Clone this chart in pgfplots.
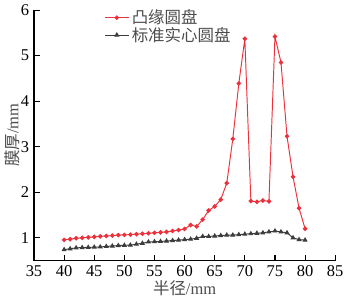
\documentclass[border=0pt]{standalone}
\usepackage{pgfplots}
\pgfplotsset{compat=1.18}
\usepackage{fontspec}
\setmainfont{Liberation Serif}
\newfontfamily\cjk{Noto Sans CJK SC}
\definecolor{myred}{RGB}{235,50,60}
\definecolor{mygray}{RGB}{60,60,60}
\begin{document}
\begin{tikzpicture}
\begin{axis}[
  width=9.3cm, height=8.0cm,
  xmin=35, xmax=85, ymin=0.5, ymax=6,
  xtick={35,40,...,85}, ytick={1,2,3,4,5,6},
  axis lines*=left,
  tick align=inside,
  tick style={black, thick},
  axis line style={black, thick},
  xlabel={\cjk 半径\rmfamily/mm},
  ylabel={\cjk 膜厚\rmfamily/mm},
  ticklabel style={font=\large, text=black},
  label style={font=\large, text=black!70},
  xlabel style={yshift=4pt},
  ylabel style={yshift=-6pt},
  /pgf/number format/assume math mode=true,
  legend style={draw=none, fill=none, at={(0.22,1.025)}, anchor=north west, font=\large, text=black!70, row sep=-3pt},
  legend cell align=left,
]
\addplot[myred, line width=0.7pt, mark=*, mark size=1.3pt] coordinates {
(40,0.955)(41,0.97)(42,0.99)(43,1.0)(44,1.01)(45,1.02)(46,1.03)(47,1.04)(48,1.05)(49,1.06)(50,1.065)(51,1.07)(52,1.08)(53,1.09)(54,1.10)(55,1.11)(56,1.12)(57,1.13)(58,1.15)(59,1.17)(60,1.196)(61,1.28)(62,1.25)(63,1.40)(64,1.60)(65,1.69)(66,1.84)(67,2.20)(68,3.17)(69,4.39)(70,5.37)(71,1.81)(72,1.79)(73,1.82)(74,1.80)(75,5.42)(76,4.85)(77,3.23)(78,2.34)(79,1.65)(80,1.20)
};
\addlegendentry{\cjk 凸缘圆盘}
\addplot[mygray, line width=0.7pt, mark=triangle*, mark size=1.5pt] coordinates {
(40,0.74)(41,0.76)(42,0.78)(43,0.785)(44,0.79)(45,0.795)(46,0.80)(47,0.81)(48,0.82)(49,0.83)(50,0.835)(51,0.84)(52,0.86)(53,0.88)(54,0.91)(55,0.915)(56,0.92)(57,0.93)(58,0.94)(59,0.95)(60,0.96)(61,0.97)(62,0.99)(63,1.03)(64,1.03)(65,1.04)(66,1.05)(67,1.06)(68,1.06)(69,1.07)(70,1.08)(71,1.09)(72,1.10)(73,1.11)(74,1.13)(75,1.15)(76,1.13)(77,1.11)(78,1.00)(79,0.96)(80,0.95)
};
\addlegendentry{\cjk 标准实心圆盘}
\end{axis}
\end{tikzpicture}
\end{document}
